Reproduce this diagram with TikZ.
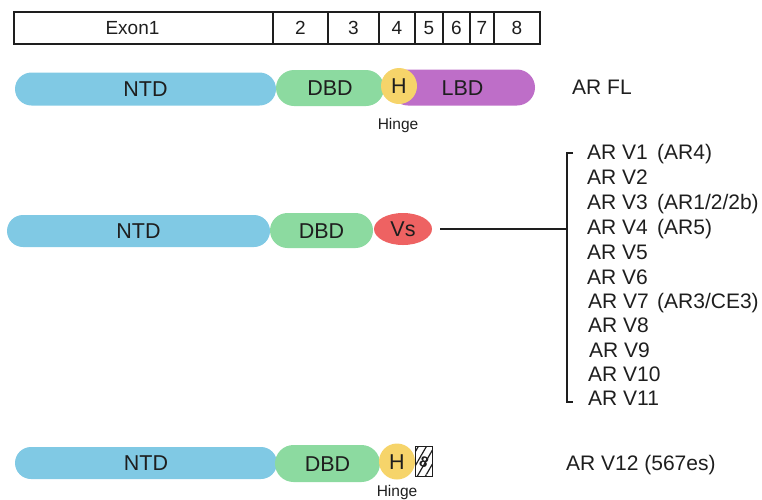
\documentclass[tikz,border=0pt]{standalone}
\usepackage{fontspec}
\setmainfont{Liberation Sans}
\usetikzlibrary{shapes.geometric,patterns.meta}

\definecolor{ntdblue}{RGB}{128,201,228}
\definecolor{dbdgreen}{RGB}{140,218,160}
\definecolor{hingeyellow}{RGB}{246,212,106}
\definecolor{lbdpurple}{RGB}{190,110,200}
\definecolor{vsred}{RGB}{238,98,98}
\definecolor{ink}{RGB}{30,30,30}

\begin{document}
\begin{tikzpicture}[x=1pt,y=-1pt,
  lbl/.style={text=ink, inner sep=0pt, text depth=0pt},
  domaintxt/.style={lbl, text height=15.4pt, font=\fontsize{21.5}{25}\selectfont},
  exoncell/.style={lbl, draw=ink, line width=1.3pt, minimum height=32pt,
                   text height=13.6pt, font=\fontsize{19}{23}\selectfont},
  pill/.style={domaintxt, rounded corners=#1},
  hingedot/.style={domaintxt, circle, fill=hingeyellow, minimum size=36pt},
  smalltxt/.style={lbl, text height=11pt, font=\fontsize{15.5}{18}\selectfont},
  sidetxt/.style={lbl, anchor=west, text height=15pt, font=\fontsize{21}{25}\selectfont},
  bracket/.style={draw=ink, line width=1.6pt}
]
\useasboundingbox (0,0) rectangle (762,499);

% exon map
\node[exoncell, minimum width=259pt] (e1) at (143.5,28) {Exon1\hspace*{22pt}};
\node[exoncell, minimum width=55pt]  (e2) at (300.5,28) {2};
\node[exoncell, minimum width=51pt]  (e3) at (353.5,28) {3};
\node[exoncell, minimum width=36pt]  (e4) at (397,28)   {4};
\node[exoncell, minimum width=28pt]  (e5) at (429,28)   {5};
\node[exoncell, minimum width=27pt]  (e6) at (456.5,28) {6};
\node[exoncell, minimum width=24pt]  (e7) at (482,28)   {7};
\node[exoncell, minimum width=46pt]  (e8) at (517,28)   {8};

% full-length receptor
\node[pill=16.5pt, fill=ntdblue, minimum width=261pt, minimum height=33pt] (ntdA) at (145.5,89) {NTD};
\node[pill=18pt, fill=dbdgreen, minimum width=108pt, minimum height=36pt] (dbdA) at (330,88) {DBD};
\node[pill=18pt, fill=lbdpurple, minimum width=145pt, minimum height=36pt] (lbdA) at (462.5,87.5) {LBD};
\node[hingedot] (hA) at (399,86) {H};
\node[smalltxt] (hingeA) at (398,124) {Hinge};
\node[sidetxt] (fl) at (572,87) {AR FL};

% truncated variants
\node[pill=16pt, fill=ntdblue, minimum width=263pt, minimum height=32pt] (ntdB) at (138.5,231) {NTD};
\node[pill=17.5pt, fill=dbdgreen, minimum width=103pt, minimum height=35pt] (dbdB) at (321.5,230.5) {DBD};
\node[domaintxt, ellipse, fill=vsred, minimum width=58pt, minimum height=32pt, inner sep=0pt] (vs) at (403,229) {Vs};

\coordinate (bt) at (567,153);
\coordinate (bj) at (567,229);
\coordinate (bb) at (567,402);
\draw[bracket] ([xshift=6pt]bt) -- (bt) -- (bb) -- ([xshift=6pt]bb);
\draw[bracket] ([xshift=8pt]vs.east) -- (bj);

\node[sidetxt] (v1)  at (587,152) {\makebox[70pt][l]{AR V1}(AR4)};
\node[sidetxt] (v2)  at (587,177) {AR V2};
\node[sidetxt] (v3)  at (587,202) {\makebox[70pt][l]{AR V3}(AR1/2/2b)};
\node[sidetxt] (v4)  at (587,227) {\makebox[70pt][l]{AR V4}(AR5)};
\node[sidetxt] (v5)  at (587,252) {AR V5};
\node[sidetxt] (v6)  at (587,277) {AR V6};
\node[sidetxt] (v7)  at (588,301) {\makebox[69pt][l]{AR V7}(AR3/CE3)};
\node[sidetxt] (v8)  at (588,325) {AR V8};
\node[sidetxt] (v9)  at (589,350) {AR V9};
\node[sidetxt] (v10) at (588,374) {AR V10};
\node[sidetxt] (v11) at (588,398) {AR V11};

% exon-8 splice variant
\node[pill=16pt, fill=ntdblue, minimum width=262pt, minimum height=32pt] (ntdC) at (146,463) {NTD};
\node[pill=18.5pt, fill=dbdgreen, minimum width=105pt, minimum height=37pt] (dbdC) at (327.5,463.5) {DBD};
\node[hingedot] (hC) at (397,461.5) {H};
\node[draw=ink, line width=1.5pt, minimum width=17pt, minimum height=30pt, inner sep=0pt,
      pattern={Lines[angle=60, distance=7pt, line width=1.2pt]}, pattern color=ink] (ex8) at (424,461.5) {};
\node[lbl, rotate=-20, text height=10.5pt, font=\bfseries\fontsize{15}{17}\selectfont] (ex8num) at (ex8.center) {8};
\node[smalltxt] (hingeC) at (397,491) {Hinge};
\node[sidetxt] (v12) at (566,463) {AR V12 (567es)};
\end{tikzpicture}
\end{document}
